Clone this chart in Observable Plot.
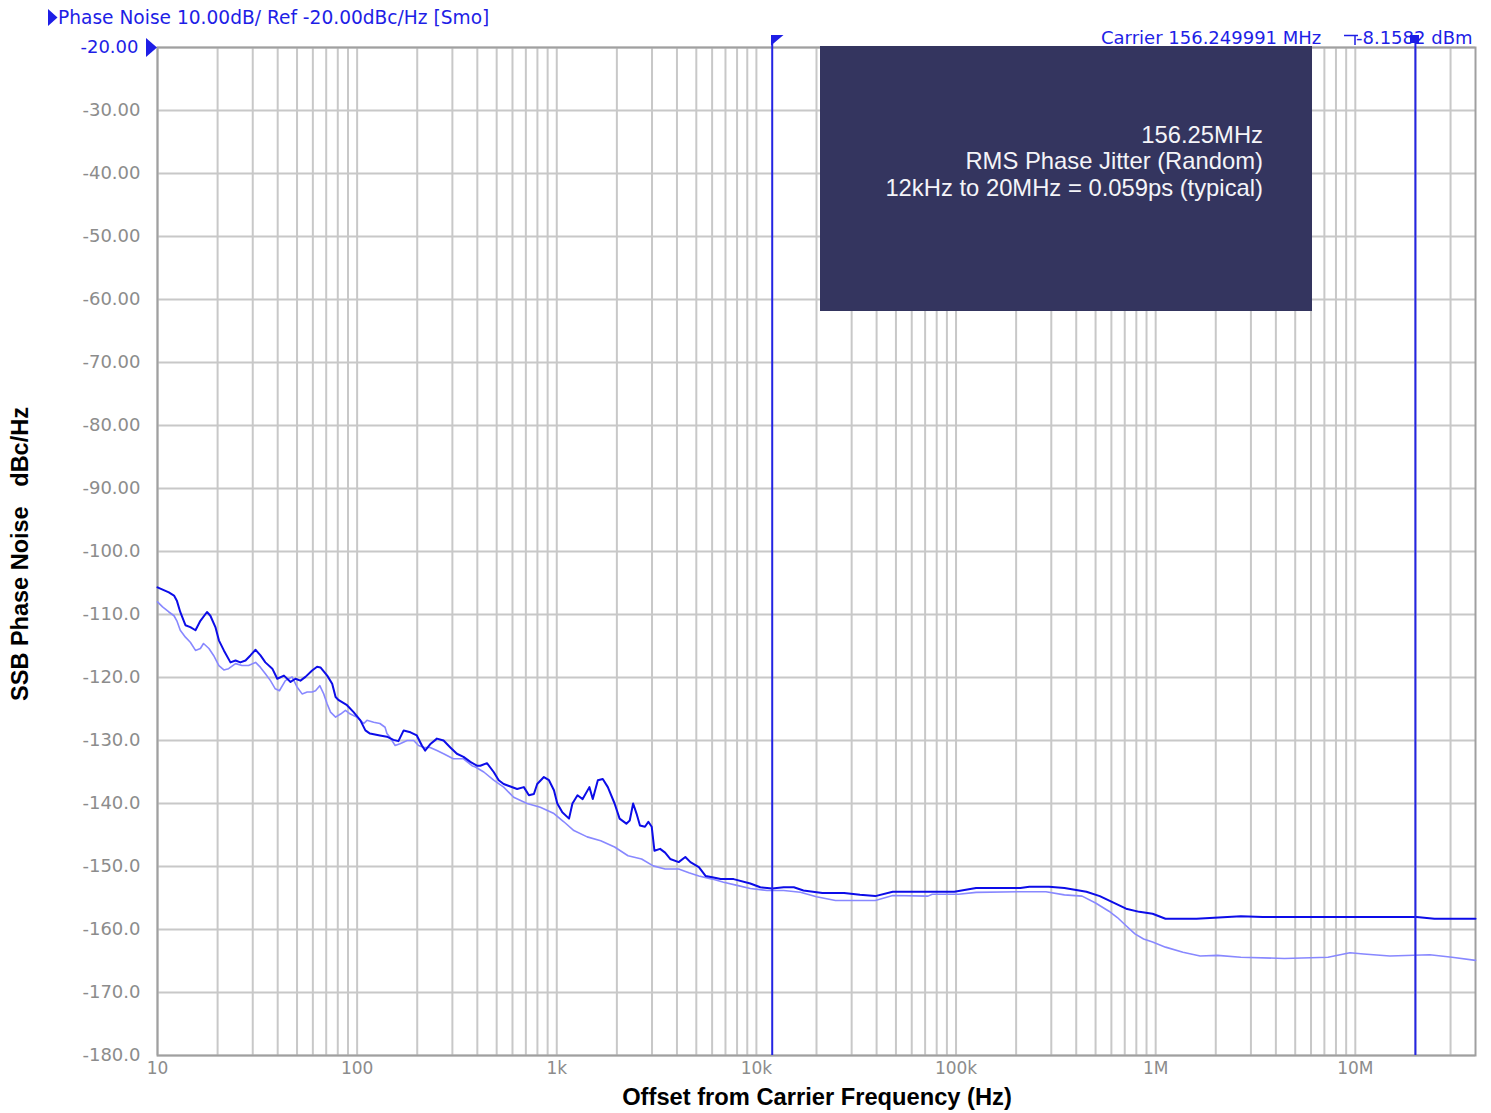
<!DOCTYPE html>
<html><head><meta charset="utf-8">
<script src="https://cdn.jsdelivr.net/npm/d3@7"></script>
<script src="https://cdn.jsdelivr.net/npm/@observablehq/plot@0.6"></script>
<style>body{margin:0;background:#fff}svg{display:block}</style>
</head><body><div id="chart"></div>
<script>
const yTicks = [-20,-30,-40,-50,-60,-70,-80,-90,-100,-110,-120,-130,-140,-150,-160,-170,-180];
const yTickLabels = ["-20.00","-30.00","-40.00","-50.00","-60.00","-70.00","-80.00","-90.00","-100.0","-110.0","-120.0","-130.0","-140.0","-150.0","-160.0","-170.0","-180.0"];
const xTicks = [10,100,1000,1e4,1e5,1e6,1e7];
const xTickLabels = ["10","100","1k","10k","100k","1M","10M"];
const markerFreqs = [12000, 20000000];

// Dark trace (measured)
const darkFreq = [10,11.4,12.1,12.5,13.0,13.8,14.6,15.5,16.4,17.7,18.4,19.5,20.3,21.5,23.2,24.6,26.0,27.6,29.2,31.0,32.8,34.7,37.6,39.8,43.0,46.4,49.1,52.0,55.1,59.5,63.0,65.5,70.8,75.0,78.0,80.9,89.0,96.0,103.8,110,116,130,141,152,161,171,185,199,211,219,232,251,271,293,316,341,369,398,414,447,483,512,542,586,633,684,725,768,798,862,914,968,1006,1066,1152,1198,1270,1348,1457,1515,1606,1700,1802,1948,2064,2231,2320,2413,2509,2610,2766,2876,2990,3085,3293,3489,3700,4080,4405,4670,5150,5560,6010,6620,7690,9320,10460,12000,13700,15400,17200,21400,27500,33000,39400,48200,72400,98000,126000,210000,233000,292000,349000,450000,525000,611000,711000,828000,965000,1.12e6,1.6e6,2.67e6,3.44e6,2.03e7,2.49e7,4e7];
const darkDb = [-105.7,-106.5,-107.0,-107.8,-109.6,-111.7,-112.0,-112.5,-111.0,-109.6,-110.2,-112.0,-114.1,-115.7,-117.6,-117.3,-117.6,-117.3,-116.5,-115.6,-116.5,-117.6,-118.6,-120.2,-119.7,-120.7,-120.2,-120.5,-119.9,-118.9,-118.3,-118.4,-119.7,-121.0,-123.1,-123.6,-124.4,-125.5,-126.8,-128.4,-128.9,-129.2,-129.4,-129.9,-130.1,-128.4,-128.7,-129.2,-130.8,-131.6,-130.6,-129.7,-130.0,-131.1,-132.1,-132.6,-133.4,-134.0,-134.0,-133.6,-135.0,-136.3,-136.9,-137.3,-137.7,-137.4,-138.7,-138.5,-136.9,-135.8,-136.3,-137.9,-140.0,-141.4,-142.4,-140.0,-138.7,-139.3,-137.4,-139.3,-136.3,-136.1,-137.4,-140.0,-142.4,-143.2,-142.7,-140.0,-141.6,-143.5,-143.7,-142.9,-143.7,-147.5,-147.2,-147.8,-148.8,-149.3,-148.5,-149.3,-150.1,-151.5,-151.7,-152.0,-152.0,-152.7,-153.3,-153.5,-153.3,-153.3,-153.8,-154.2,-154.2,-154.5,-154.7,-154.0,-154.0,-154.0,-153.4,-153.4,-153.2,-153.2,-153.4,-154.0,-154.7,-155.7,-156.7,-157.2,-157.5,-158.3,-158.3,-157.9,-158.0,-158.0,-158.3,-158.3];

// Light trace (smoothed)
const lightFreq = [10,10.6,11.4,12.1,12.5,13.0,13.8,14.6,15.5,16.4,17.0,18.1,19.1,20.3,21.5,22.7,24.6,26.5,28.6,31.0,32.8,34.7,36.8,38.9,40.8,43.7,47.2,50.0,53.0,56.2,59.5,61.9,65.0,68.0,70.8,73.6,78.0,82.6,87.4,92.5,100,108,112,121,130,138,141,146,155,164,178,192,203,216,232,251,271,303,341,376,391,431,483,542,608,710,827,968,1085,1218,1420,1660,1948,2275,2660,3040,3489,4080,4590,5150,6010,6850,8000,9320,11300,13700,16600,20000,24900,39400,48200,72400,76000,103000,126000,210000,282000,349000,428000,500000,583000,643000,711000,787000,870000,965000,1.12e6,1.37e6,1.67e6,2.04e6,2.67e6,4.41e6,7.3e6,9.4e6,1.1e7,1.49e7,2.36e7,3.05e7,4e7];
const lightDb = [-108.0,-108.8,-109.6,-110.2,-111.0,-112.5,-113.6,-114.4,-115.7,-115.4,-114.6,-115.4,-116.5,-118.1,-118.8,-118.6,-117.8,-118.1,-118.1,-117.6,-118.4,-119.4,-120.5,-121.8,-122.1,-120.5,-119.9,-121.5,-122.6,-122.3,-122.3,-122.1,-121.3,-122.6,-124.2,-125.5,-126.3,-125.8,-125.2,-125.8,-126.3,-127.3,-126.8,-127.1,-127.3,-127.9,-128.9,-129.5,-130.8,-130.5,-130.0,-130.0,-130.8,-131.1,-131.1,-131.6,-132.1,-132.9,-132.9,-134.0,-134.2,-135.0,-136.3,-137.4,-139.0,-140.0,-140.6,-141.6,-142.9,-144.3,-145.3,-145.9,-146.9,-148.3,-148.8,-149.9,-150.4,-150.4,-151.0,-151.5,-152.0,-152.5,-153.0,-153.5,-153.8,-153.8,-154.1,-154.8,-155.4,-155.4,-154.6,-154.7,-154.4,-154.4,-154.1,-154.0,-154.0,-154.5,-154.7,-155.8,-157.1,-158.1,-159.4,-160.7,-161.5,-162.0,-162.8,-163.6,-164.2,-164.1,-164.4,-164.6,-164.4,-163.7,-163.9,-164.2,-164.0,-164.4,-164.9];

const dark = darkFreq.map((f,i)=>({f, db: darkDb[i]}));
const light = lightFreq.map((f,i)=>({f, db: lightDb[i]}));

const gridFreqs = [];
for (let k = 1; k <= 7; k++) for (let d = 1; d <= 9; d++) { const v = d * 10 ** k; if (v < 4e7) gridFreqs.push(v); }

const BLUE = "#1e1ee6", GRAY = "#8c8c8c";
const tickFont = "DejaVu Sans";

const svg = Plot.plot({
  width: 1491, height: 1113,
  marginLeft: 157, marginRight: 16, marginTop: 47, marginBottom: 58,
  x: {type: "log", domain: [10, 4e7], axis: null},
  y: {domain: [-180, -20], axis: null},
  style: {background: "#fff"},
  marks: [
    Plot.ruleX(gridFreqs, {stroke: "#c8c8c8", strokeWidth: 2}),
    Plot.ruleY(yTicks, {stroke: "#c8c8c8", strokeWidth: 2}),
    Plot.frame({stroke: "#a0a0a0", strokeWidth: 2}),
    Plot.line(light, {x: "f", y: "db", stroke: "#8888ff", strokeWidth: 1.6}),
    Plot.line(dark, {x: "f", y: "db", stroke: "#0c0ce8", strokeWidth: 2}),
    Plot.ruleX(markerFreqs, {stroke: "#2424e4", strokeWidth: 2, insetTop: -11}),
    Plot.text(yTicks.slice(1), {y: d => d, text: (d, i) => yTickLabels[i + 1], frameAnchor: "left", textAnchor: "end", dx: -17, fill: GRAY, fontSize: 18, fontFamily: tickFont}),
    Plot.text(yTicks.slice(0, 1), {y: d => d, text: () => yTickLabels[0], frameAnchor: "left", textAnchor: "end", dx: -19, fill: BLUE, fontSize: 18, fontFamily: tickFont}),
    Plot.text(xTicks, {x: d => d, text: (d, i) => xTickLabels[i], frameAnchor: "bottom", lineAnchor: "middle", dy: 13, fill: GRAY, fontSize: 17, fontFamily: tickFont})
  ]
});
document.getElementById("chart").appendChild(svg);

const s = d3.select(svg);
// annotation box
s.append("rect").attr("x", 820).attr("y", 46).attr("width", 492).attr("height", 265).attr("fill", "#34355f");
const boxLines = ["156.25MHz", "RMS Phase Jitter (Random)", "12kHz to 20MHz = 0.059ps (typical)"];
s.append("g").selectAll("text").data(boxLines).join("text")
  .attr("x", 1263).attr("y", (d, i) => 143 + i * 26.3)
  .attr("text-anchor", "end").attr("fill", "#f4f4f8")
  .attr("font-family", "Liberation Sans, Arial, sans-serif").attr("font-size", 23.8)
  .text(d => d);

// header left
s.append("path").attr("d", "M48,9L57.5,17.5L48,26Z").attr("fill", BLUE);
s.append("text").attr("x", 58).attr("y", 24).attr("text-anchor", "start").attr("fill", BLUE)
  .attr("font-family", tickFont).attr("font-size", 18.6)
  .text("Phase Noise 10.00dB/ Ref -20.00dBc/Hz [Smo]");
// ref triangle
s.append("path").attr("d", "M146,38L157,47.5L146,57Z").attr("fill", BLUE);

// header right
s.append("text").attr("x", 1101).attr("y", 44).attr("text-anchor", "start").attr("fill", BLUE)
  .attr("font-family", tickFont).attr("font-size", 18)
  .text("Carrier 156.249991 MHz");
s.append("path").attr("d", "M1344,35.5H1358M1355,35.5V45").attr("stroke", BLUE).attr("stroke-width", 1.5).attr("fill", "none");
s.append("text").attr("x", 1356).attr("y", 44).attr("text-anchor", "start").attr("fill", BLUE)
  .attr("font-family", tickFont).attr("font-size", 18)
  .text("-8.1582 dBm");
// marker symbols
s.append("rect").attr("x", 1410).attr("y", 35).attr("width", 9).attr("height", 8).attr("fill", BLUE);
s.append("path").attr("d", "M771,35H783.5L771,45.5Z").attr("fill", BLUE);

// axis titles
s.append("text").attr("x", 817).attr("y", 1105).attr("text-anchor", "middle")
  .attr("font-family", "Liberation Sans, Arial, sans-serif").attr("font-weight", "bold").attr("font-size", 23.7).attr("fill", "#000")
  .text("Offset from Carrier Frequency (Hz)");
s.append("text").attr("transform", "translate(28,554) rotate(-90)").attr("text-anchor", "middle")
  .attr("font-family", "Liberation Sans, Arial, sans-serif").attr("font-weight", "bold").attr("font-size", 23.5).attr("fill", "#000")
  .style("white-space", "pre")
  .text("SSB Phase Noise   dBc/Hz");
</script>
</body></html>
